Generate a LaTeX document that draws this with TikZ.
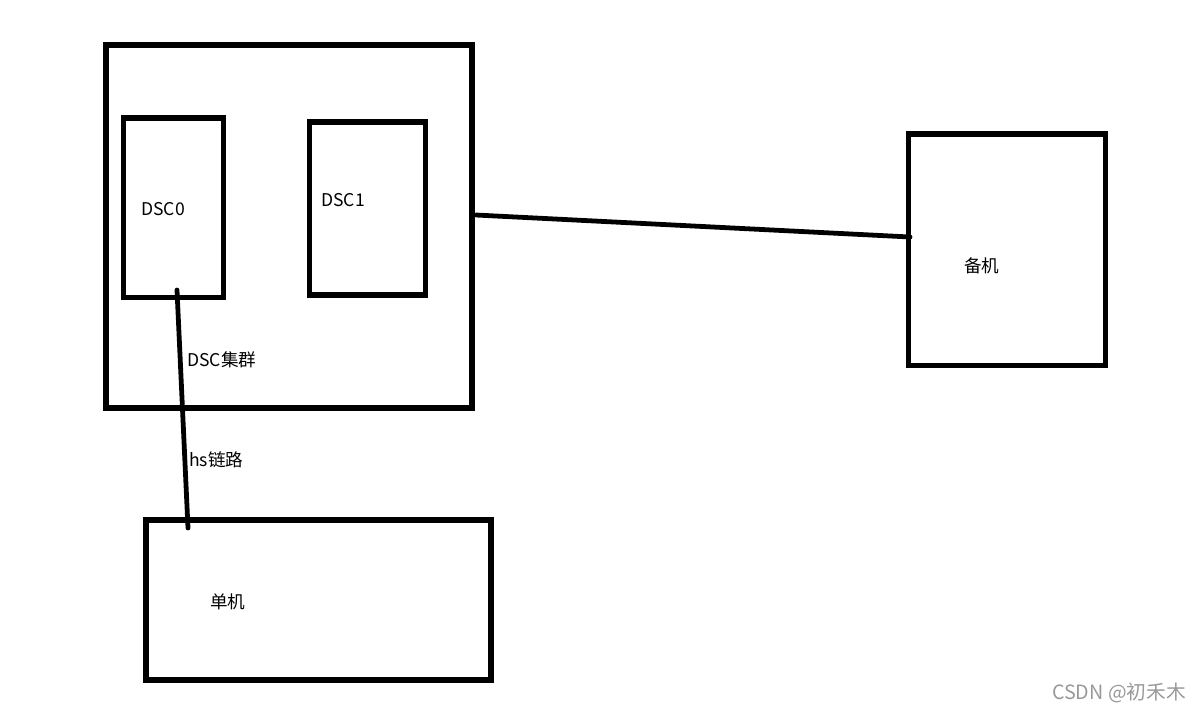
\documentclass[tikz,border=0pt]{standalone}
\usepackage{fontspec}
\setmainfont{Noto Sans CJK SC}
\usepackage{tikz}

\begin{document}
\begin{tikzpicture}[
    x=0.025cm, y=-0.025cm,
    every node/.style={font=\fontsize{12.5}{14}\selectfont},
    box/.style 2 args={rectangle, draw, line width=3.6pt, inner sep=0pt, minimum width=#1*0.025cm, minimum height=#2*0.025cm},
    label/.style={anchor=west, inner sep=0pt},
    link/.style={line width=3.4pt, line cap=round}
]
\useasboundingbox (0,0) rectangle (1201,713);

% ---- kotak-kotak ----
\node[box={366}{363}]   (cluster) at (289,226.5)   {};
\node[box={100}{179.5}] (dsc0)    at (173.5,207.75) {};
\node[box={116}{173}]   (dsc1)    at (367.5,208.5)  {};
\node[box={197}{231.5}] (backup)  at (1007,249.75)  {};
\node[box={345}{160}]   (single)  at (318.5,600)    {};

% ---- teks di dalam kotak ----
\node[label] (tdsc0)    at (141,209) {DSC0};
\node[label] (tdsc1)    at (321,200) {DSC1};
\node[label] (tcluster) at (187,360) {DSC集群};
\node[label] (tbackup)  at (964,266) {备机};
\node[label] (tsingle)  at (210,602) {单机};

% ---- titik ujung garis ----
\coordinate (hsTop)  at (177,290);
\coordinate (hsBot)  at (188,528);
\coordinate (bkFrom) at (476,215);
\coordinate (bkTo)   at (910,237);

% ---- garis penghubung ----
\draw[link] (hsTop) -- (hsBot);
\draw[link] (bkFrom) -- (bkTo);
\node[label] (ths) at (189,460) {hs链路};

% ---- watermark ----
\node[anchor=east, inner sep=0pt, text=black!40, font=\fontsize{14}{16}\selectfont] (mark) at (1186,693) {CSDN @初禾木};

\end{tikzpicture}
\end{document}
